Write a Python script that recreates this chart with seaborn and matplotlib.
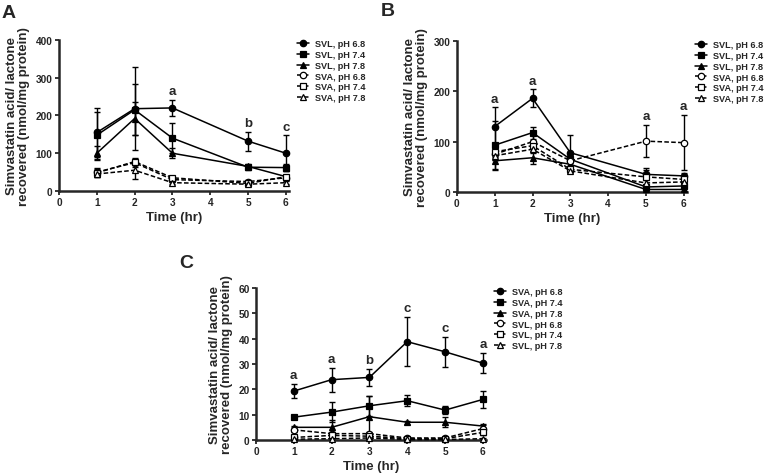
import numpy as np
import pandas as pd
import seaborn as sns
import matplotlib
matplotlib.use("Agg")
import matplotlib.pyplot as plt

# ---- data -------------------------------------------------------------
time_ab = [1, 2, 3, 5, 6]
time_c = [1, 2, 3, 4, 5, 6]

labels_ab = ["SVL, pH 6.8", "SVL, pH 7.4", "SVL, pH 7.8",
             "SVA, pH 6.8", "SVA, pH 7.4", "SVA, pH 7.8"]
labels_c = ["SVA, pH 6.8", "SVA, pH 7.4", "SVA, pH 7.8",
            "SVL, pH 6.8", "SVL, pH 7.4", "SVL, pH 7.8"]

# panel A
a_mean = [
    [155, 218, 220, 132, 100],
    [148, 215, 140, 63, 62],
    [100, 192, 100, 65, 38],
    [50, 75, 30, 25, 35],
    [48, 78, 35, 20, 38],
    [45, 55, 22, 18, 22],
]
a_err = [
    [65, 110, 22, 25, 47],
    [62, 68, 40, 8, 10],
    [18, 43, 13, 5, 5],
    [10, 12, 5, 4, 5],
    [10, 8, 5, 4, 5],
    [8, 22, 4, 3, 4],
]
a_letters = [None, None, "a", "b", "c"]

# panel B
b_mean = [
    [130, 186, 78, 35, 32],
    [93, 118, 65, 10, 12],
    [62, 68, 55, 5, 5],
    [75, 100, 62, 101, 98],
    [80, 92, 45, 30, 25],
    [72, 85, 42, 18, 20],
]
b_err = [
    [38, 18, 35, 8, 6],
    [48, 12, 8, 4, 4],
    [18, 12, 6, 3, 3],
    [12, 15, 10, 32, 55],
    [10, 10, 5, 18, 8],
    [8, 8, 4, 6, 6],
]
b_letters = ["a", "a", None, "a", "a"]

# panel C
c_mean = [
    [19.3, 23.8, 24.7, 38.8, 34.8, 30.3],
    [9.0, 11.0, 13.5, 15.5, 11.8, 16.0],
    [5.0, 5.0, 9.2, 7.0, 7.0, 5.5],
    [4.0, 2.5, 2.5, 0.8, 0.8, 4.5],
    [1.0, 1.8, 1.5, 0.5, 0.5, 3.0],
    [0.3, 0.5, 0.8, 0.2, 0.2, 0.5],
]
c_err = [
    [2.7, 4.8, 3.5, 9.7, 5.8, 4.0],
    [0.5, 4.0, 4.0, 2.2, 1.5, 3.2],
    [0.5, 3.0, 8.0, 0.5, 2.0, 1.0],
    [1.0, 0.5, 0.5, 0.3, 0.3, 1.5],
    [0.5, 0.5, 0.5, 0.2, 0.2, 1.0],
    [0.2, 0.3, 0.3, 0.1, 0.1, 0.3],
]
c_letters = ["a", "a", "b", "c", "c", "a"]

ylabel = "Simvastatin acid/ lactone\nrecovered (nmol/mg protein)"
markers = ["o", "s", "^", "o", "s", "^"]
filled = [True, True, True, False, False, False]

# ---- style ------------------------------------------------------------
sns.set_style("ticks")
plt.rcParams["font.family"] = ["Liberation Sans", "DejaVu Sans"]
plt.rcParams["font.weight"] = "bold"
plt.rcParams["axes.labelweight"] = "bold"

W, H = 764, 477
fig = plt.figure(figsize=(W / 100, H / 100), dpi=100)


def draw_panel(rect, x, means, errs, labels, ymax, ystep, letters, tag, tag_xy):
    ax = fig.add_axes(rect)
    for i in range(len(means)):
        face = "black" if filled[i] else "white"
        ls = "-" if filled[i] else (0, (3, 1.5))
        df = pd.DataFrame({"t": x, "v": means[i]})
        sns.lineplot(data=df, x="t", y="v", ax=ax, color="black",
                     linestyle=ls, linewidth=1.1, marker=markers[i],
                     markersize=4.6 if markers[i] != "^" else 5.0,
                     markerfacecolor=face, markeredgecolor="black",
                     markeredgewidth=0.9, label=labels[i], clip_on=False,
                     zorder=3)
        ax.errorbar(x, means[i], yerr=errs[i], fmt="none", ecolor="black",
                    elinewidth=1.0, capsize=2.5, capthick=1.0, zorder=2,
                    clip_on=False)
    # significance letters above the highest error bar at each time
    tops = np.max(np.array(means) + np.array(errs), axis=0)
    for xi, top, lt in zip(x, tops, letters):
        if lt:
            ax.annotate(lt, (xi, top), xytext=(0, 2), textcoords="offset points",
                        ha="center", va="bottom", fontsize=9.5, fontweight="bold")
    ax.set_xlim(0, 6.08)
    ax.set_ylim(0, ymax)
    ax.set_xticks(range(0, 7))
    ax.set_yticks(np.arange(0, ymax + 1, ystep))
    ax.set_xlabel("Time (hr)", fontsize=9.5, fontweight="bold", labelpad=3)
    ax.set_ylabel(ylabel, fontsize=9.5, fontweight="bold", labelpad=4,
                  linespacing=1.0)
    sns.despine(ax=ax)
    ax.spines["left"].set_linewidth(1.8)
    ax.spines["bottom"].set_linewidth(1.8)
    ax.spines["left"].set_bounds(0, ymax)
    ax.tick_params(axis="both", labelsize=7.3, width=1.3, length=3, pad=1.5)
    for lab in ax.get_xticklabels() + ax.get_yticklabels():
        lab.set_fontweight("bold")
    ax.legend(loc="upper left", bbox_to_anchor=(1.02, 1.03), frameon=False,
              fontsize=6.6, handlelength=1.3, handletextpad=0.6,
              labelspacing=0.2, borderaxespad=0.0)
    for t in ax.get_legend().get_texts():
        t.set_fontweight("bold")
    fig.text(tag_xy[0] / W, 1 - tag_xy[1] / H, tag, fontsize=14,
             fontweight="bold", ha="left", va="center")
    return ax


draw_panel([0.0772, 0.5975, 0.301, 0.3166], time_ab, a_mean, a_err,
           labels_ab, 400, 100, a_letters, "A", (2, 13))
draw_panel([0.598, 0.5954, 0.301, 0.3166], time_ab, b_mean, b_err,
           labels_ab, 300, 100, b_letters, "B", (381, 12))
draw_panel([0.335, 0.0755, 0.301, 0.3187], time_c, c_mean, c_err,
           labels_c, 60, 10, c_letters, "C", (179, 264))

fig.savefig("out.png", dpi=100)
